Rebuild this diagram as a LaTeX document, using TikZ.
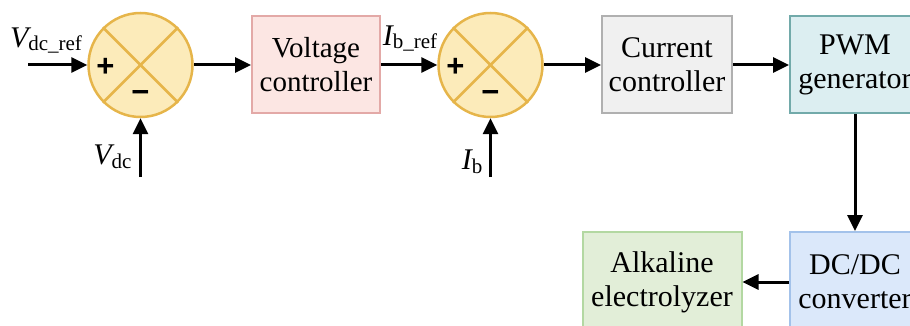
\documentclass[tikz,border=0pt]{standalone}
\usepackage{fontspec}
\setmainfont{Liberation Serif}
\newfontfamily\signfont{Liberation Sans}
\usepackage{xcolor}
\usetikzlibrary{shapes,arrows.meta,positioning}

\definecolor{sumfill}{HTML}{FCEBBA}
\definecolor{sumdraw}{HTML}{E6B54A}
\definecolor{vcfill}{HTML}{FCE6E3}
\definecolor{vcdraw}{HTML}{E3A9A7}
\definecolor{ccfill}{HTML}{F0F0F0}
\definecolor{ccdraw}{HTML}{B0B0B0}
\definecolor{pwmfill}{HTML}{DCEEF1}
\definecolor{pwmdraw}{HTML}{72AAAA}
\definecolor{dcfill}{HTML}{DBE8FA}
\definecolor{dcdraw}{HTML}{A3C2EA}
\definecolor{elfill}{HTML}{E2EED8}
\definecolor{eldraw}{HTML}{B3D8A2}

\newcommand{\sublbl}[2]{{\itshape #1}\raisebox{-0.25ex}{\fontsize{21}{21}\selectfont #2}}

\begin{document}
\begin{tikzpicture}[
      x=1pt, y=1pt,
      font=\fontsize{30}{34}\selectfont,
      block/.style={rectangle, draw, line width=2pt, text centered, align=center, minimum width=130pt, minimum height=97pt, inner sep=0pt},
      sumnode/.style={circle, draw=sumdraw, fill=sumfill, line width=2.5pt, minimum size=104pt, inner sep=0pt},
      sign/.style={font=\signfont\bfseries\fontsize{31}{31}\selectfont},
      arrow/.style={line width=3pt, -{Triangle[length=16pt,width=15pt]}}
    ]
      \useasboundingbox (0,0) rectangle (910,-326);

      % summing junctions
      \node [sumnode] (sum1) at (140.5,-65) {};
      \node [sumnode] (sum2) at (490.5,-65) {};
      \foreach \s in {sum1,sum2} {
        \draw [sumdraw, line width=2.5pt] (\s.north west) -- (\s.south east);
        \draw [sumdraw, line width=2.5pt] (\s.north east) -- (\s.south west);
        \node [sign] at ([xshift=-35pt,yshift=-2pt]\s.center) {+};
        \node [sign] at ([yshift=-31pt]\s.center) {−};
      }

      % blocks
      \node [block, draw=vcdraw, fill=vcfill, minimum width=128pt, font=\fontsize{29}{34}\selectfont] (volt) at (316,-65) {Voltage\\controller};
      \node [block, draw=ccdraw, fill=ccfill] (curr) at (667,-65) {Current\\controller};
      \node [block, draw=pwmdraw, fill=pwmfill] (pwm) at (855,-65) {PWM\\generator};
      \node [block, draw=dcdraw, fill=dcfill, minimum height=100pt] (dcdc) at (855,-282) {DC/DC\\converter};
      \node [block, draw=eldraw, fill=elfill, minimum width=159pt, minimum height=100pt] (elec) at (662,-282) {Alkaline\\electrolyzer};

      % inputs
      \coordinate (in1) at (28,-65);
      \coordinate (in2) at (140.5,-177);
      \coordinate (in3) at (490.5,-177);
      \node [anchor=south] (vdcref) at (46,-57) {\sublbl{V}{dc\_ref}};
      \node [anchor=east] (vdc) at (135,-157) {\sublbl{V}{dc}};
      \node [anchor=south] (ibref) at (410,-55) {\sublbl{I}{b\_ref}};
      \node [anchor=east] (ib) at (486,-162) {\sublbl{I}{b}};

      % connectors
      \draw [arrow] (in1) -- (sum1.west);
      \draw [arrow] (in2) -- (sum1.south);
      \draw [arrow] (sum1.east) -- (volt.west);
      \draw [arrow] (volt.east) -- (sum2.west);
      \draw [arrow] (in3) -- (sum2.south);
      \draw [arrow] (sum2.east) -- (curr.west);
      \draw [arrow] (curr.east) -- (pwm.west);
      \draw [arrow] (pwm.south) -- (dcdc.north);
      \draw [arrow] (dcdc.west) -- (elec.east);
    \end{tikzpicture}
\end{document}
